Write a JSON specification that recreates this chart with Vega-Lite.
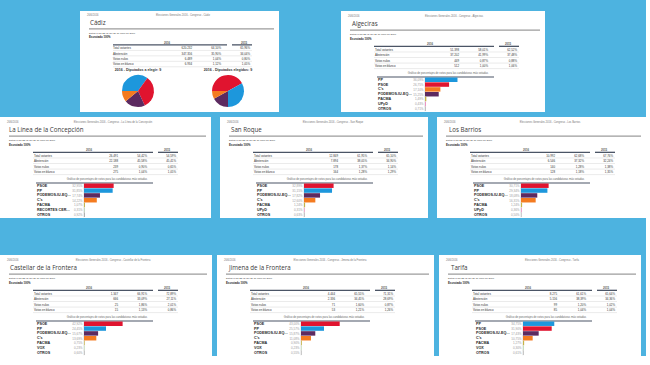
{
 "$schema": "https://vega.github.io/schema/vega-lite/v6.json",
 "background": "#4db3e0",
 "padding": {"left": 0, "top": 11, "right": 0, "bottom": 0},
 "config": {
  "view": {"stroke": null, "fill": "white"},
  "axis": {"disable": true},
  "legend": {"disable": true},
  "text": {"font": "Liberation Sans"},
  "locale": {"number": {"decimal": ",", "thousands": ".", "grouping": [3], "currency": ["", " €"]}}
 },
 "spacing": 37,
 "vconcat": [
  {
   "spacing": 5,
   "vconcat": [
    {
     "spacing": 62,
     "hconcat": [
      {"width": 18, "height": 101, "view": {"fillOpacity": 0}, "data": {"values": [{}]}, "mark": {"type": "text", "text": ""}, "encoding": {}},
      {
       "width": 199, "height": 101,
       "resolve": {"scale": {"x": "independent", "y": "independent"}},
       "layer": [
        {
         "data": {"values": [{"municipio": "Cádiz", "fecha": "26/6/2016", "cabecera": "Elecciones Generales 2016 - Congreso - Cádiz", "datos": "Datos a las 22:45 del 26 de junio de 2016", "escrutado": "Escrutado 100%"}]},
         "layer": [
          {"mark": {"type": "text", "align": "left", "baseline": "middle", "fontSize": 2.6, "color": "#777", "dx": -76},
           "encoding": {"x": {"datum": "concepto", "type": "nominal", "scale": {"type": "point", "domain": ["concepto", "votos", "pct2016", "pct2015"], "range": [83, 170], "padding": 0}}, "y": {"datum": "cabecera", "type": "nominal", "scale": {"type": "point", "domain": ["cabecera", "titulo", "regla", "datos", "escrutado", "anios", "Total votantes", "Abstención", "Votos nulos", "Votos en blanco", "grafico", "regla_grafico"], "range": [4, 64], "padding": 0}}, "text": {"field": "fecha"}}},
          {"mark": {"type": "text", "align": "center", "baseline": "middle", "fontSize": 2.6, "color": "#777", "dx": -9},
           "encoding": {"x": {"datum": "votos", "type": "nominal"}, "y": {"datum": "cabecera", "type": "nominal"}, "text": {"field": "cabecera"}}},
          {"mark": {"type": "text", "align": "left", "baseline": "middle", "fontSize": 6.2, "font": "Open Sans", "color": "#3a3a3a", "dx": -73, "dy": 2.5},
           "encoding": {"x": {"datum": "concepto", "type": "nominal"}, "y": {"datum": "titulo", "type": "nominal"}, "text": {"field": "municipio"}}},
          {"mark": {"type": "rule", "color": "#9c9c9c", "strokeWidth": 1.4, "xOffset": -74, "x2Offset": 24, "yOffset": 3},
           "encoding": {"x": {"datum": "concepto", "type": "nominal"}, "x2": {"datum": "pct2015"}, "y": {"datum": "regla", "type": "nominal"}}},
          {"mark": {"type": "text", "align": "left", "baseline": "middle", "fontSize": 2.5, "color": "#444", "dx": -74, "dy": 1.5},
           "encoding": {"x": {"datum": "concepto", "type": "nominal"}, "y": {"datum": "datos", "type": "nominal"}, "text": {"field": "datos"}}},
          {"mark": {"type": "text", "align": "left", "baseline": "middle", "fontSize": 2.8, "fontWeight": "bold", "color": "#222", "dx": -74},
           "encoding": {"x": {"datum": "concepto", "type": "nominal"}, "y": {"datum": "escrutado", "type": "nominal"}, "text": {"field": "escrutado"}}},
          {"mark": {"type": "text", "text": "2016", "align": "center", "baseline": "middle", "fontSize": 2.8, "fontWeight": "bold", "color": "#555", "dx": 4},
           "encoding": {"x": {"datum": "concepto", "type": "nominal"}, "y": {"datum": "anios", "type": "nominal"}}},
          {"mark": {"type": "text", "text": "2015", "align": "center", "baseline": "middle", "fontSize": 2.8, "fontWeight": "bold", "color": "#555", "dx": -6},
           "encoding": {"x": {"datum": "pct2015", "type": "nominal"}, "y": {"datum": "anios", "type": "nominal"}}},
          {"mark": {"type": "rule", "color": "#4b5566", "strokeWidth": 1.3, "xOffset": -50, "x2Offset": 6, "yOffset": 2.6},
           "encoding": {"x": {"datum": "concepto", "type": "nominal"}, "x2": {"datum": "pct2016"}, "y": {"datum": "anios", "type": "nominal"}}},
          {"mark": {"type": "rule", "color": "#4b5566", "strokeWidth": 1.3, "xOffset": -18, "x2Offset": 2, "yOffset": 2.6},
           "encoding": {"x": {"datum": "pct2015", "type": "nominal"}, "x2": {"datum": "pct2015"}, "y": {"datum": "anios", "type": "nominal"}}},
          {"data": {"values": [{"concepto": "Total votantes", "votos": "620.232", "pct2016": "64,10%", "pct2015": "65,96%"}, {"concepto": "Abstención", "votos": "347.356", "pct2016": "35,90%", "pct2015": "34,04%"}, {"concepto": "Votos nulos", "votos": "6.489", "pct2016": "1,04%", "pct2015": "0,80%"}, {"concepto": "Votos en blanco", "votos": "6.934", "pct2016": "1,12%", "pct2015": "1,05%"}]},
           "layer": [
            {"mark": {"type": "rule", "color": "#dddddd", "strokeWidth": 0.6, "xOffset": -50, "x2Offset": 2, "yOffset": 2.7},
             "encoding": {"x": {"datum": "concepto", "type": "nominal"}, "x2": {"datum": "pct2015"}, "y": {"field": "concepto", "type": "nominal"}}},
            {"mark": {"type": "text", "align": "left", "baseline": "middle", "fontSize": 2.9, "color": "#333", "dx": -50},
             "encoding": {"x": {"datum": "concepto", "type": "nominal"}, "y": {"field": "concepto", "type": "nominal"}, "text": {"field": "concepto"}}},
            {"transform": [{"fold": ["votos", "pct2016", "pct2015"], "as": ["columna", "valor"]}],
             "mark": {"type": "text", "align": "right", "baseline": "middle", "fontSize": 2.9, "color": "#333"},
             "encoding": {"x": {"field": "columna", "type": "nominal"}, "y": {"field": "concepto", "type": "nominal"}, "text": {"field": "valor"}}}
           ]}
         ]
        },
        {
         "resolve": {"scale": {"theta": "independent"}},
         "layer": [
          {"data": {"values": [{"grafico": "a elegir", "texto": "2016 - Diputados a elegir: 9"}, {"grafico": "elegidos", "texto": "2016 - Diputados elegidos: 9"}]},
           "mark": {"type": "text", "align": "center", "baseline": "middle", "fontSize": 3.6, "fontWeight": "bold", "color": "#333"},
           "encoding": {"x": {"field": "grafico", "type": "nominal", "scale": {"type": "point", "domain": ["a elegir", "elegidos"], "range": [58, 148], "padding": 0}}, "y": {"datum": "etiqueta", "type": "nominal", "scale": {"type": "point", "domain": ["etiqueta", "pastel"], "range": [59, 80], "padding": 0}}, "text": {"field": "texto"}}},
          {"data": {"values": [{"grafico": "a elegir", "partido": "PP", "valor": 35}, {"grafico": "a elegir", "partido": "PSOE", "valor": 33}, {"grafico": "a elegir", "partido": "PODEMOS-IU-EQUO", "valor": 21}, {"grafico": "a elegir", "partido": "C's", "valor": 11}]},
           "mark": {"type": "arc", "outerRadius": 16},
           "encoding": {"x": {"field": "grafico", "type": "nominal"}, "y": {"datum": "pastel", "type": "nominal"}, "theta": {"field": "valor", "type": "quantitative", "scale": {"range": [-1.5708, 4.7124]}}, "order": {"field": "valor", "type": "quantitative", "sort": "descending"}, "color": {"field": "partido", "type": "nominal", "scale": {"domain": ["PP", "PSOE", "PODEMOS-IU-EQUO", "C's", "PACMA", "UPyD", "RECORTES CERO-GV", "VOX", "OTROS"], "range": ["#1d97dc", "#e0142f", "#5c2a60", "#f47b20", "#c5b446", "#e5007d", "#4f9a4a", "#5ab630", "#a5a5a5"]}}}},
          {"data": {"values": [{"grafico": "elegidos", "partido": "PSOE", "valor": 42}, {"grafico": "elegidos", "partido": "PP", "valor": 33}, {"grafico": "elegidos", "partido": "PODEMOS-IU-EQUO", "valor": 17}, {"grafico": "elegidos", "partido": "C's", "valor": 8}]},
           "mark": {"type": "arc", "outerRadius": 16},
           "encoding": {"x": {"field": "grafico", "type": "nominal"}, "y": {"datum": "pastel", "type": "nominal"}, "theta": {"field": "valor", "type": "quantitative", "scale": {"range": [-1.5708, 4.7124]}}, "order": {"field": "valor", "type": "quantitative", "sort": "descending"}, "color": {"field": "partido", "type": "nominal"}}}
         ]
        }
       ]
      },
      {
       "width": 204, "height": 101,
       "resolve": {"scale": {"x": "independent", "y": "independent"}},
       "layer": [
        {
         "data": {"values": [{"municipio": "Algeciras", "fecha": "26/6/2016", "cabecera": "Elecciones Generales 2016 - Congreso - Algeciras", "datos": "Datos a las 22:45 del 26 de junio de 2016", "escrutado": "Escrutado 100%"}]},
         "layer": [
          {"mark": {"type": "text", "align": "left", "baseline": "middle", "fontSize": 2.6, "color": "#777", "dx": -82},
           "encoding": {"x": {"datum": "concepto", "type": "nominal", "scale": {"type": "point", "domain": ["concepto", "votos", "pct2016", "pct2015"], "range": [89, 176], "padding": 0}}, "y": {"datum": "cabecera", "type": "nominal", "scale": {"type": "point", "domain": ["cabecera", "titulo", "regla", "datos", "escrutado", "anios", "Total votantes", "Abstención", "Votos nulos", "Votos en blanco", "grafico", "regla_grafico"], "range": [5, 66], "padding": 0}}, "text": {"field": "fecha"}}},
          {"mark": {"type": "text", "align": "center", "baseline": "middle", "fontSize": 2.6, "color": "#777", "dx": -5},
           "encoding": {"x": {"datum": "votos", "type": "nominal"}, "y": {"datum": "cabecera", "type": "nominal"}, "text": {"field": "cabecera"}}},
          {"mark": {"type": "text", "align": "left", "baseline": "middle", "fontSize": 6.2, "font": "Open Sans", "color": "#3a3a3a", "dx": -78, "dy": 2.5},
           "encoding": {"x": {"datum": "concepto", "type": "nominal"}, "y": {"datum": "titulo", "type": "nominal"}, "text": {"field": "municipio"}}},
          {"mark": {"type": "rule", "color": "#9c9c9c", "strokeWidth": 1.4, "xOffset": -80, "x2Offset": 23, "yOffset": 3},
           "encoding": {"x": {"datum": "concepto", "type": "nominal"}, "x2": {"datum": "pct2015"}, "y": {"datum": "regla", "type": "nominal"}}},
          {"mark": {"type": "text", "align": "left", "baseline": "middle", "fontSize": 2.5, "color": "#444", "dx": -80, "dy": 1.5},
           "encoding": {"x": {"datum": "concepto", "type": "nominal"}, "y": {"datum": "datos", "type": "nominal"}, "text": {"field": "datos"}}},
          {"mark": {"type": "text", "align": "left", "baseline": "middle", "fontSize": 2.8, "fontWeight": "bold", "color": "#222", "dx": -80},
           "encoding": {"x": {"datum": "concepto", "type": "nominal"}, "y": {"datum": "escrutado", "type": "nominal"}, "text": {"field": "escrutado"}}},
          {"mark": {"type": "text", "text": "2016", "align": "center", "baseline": "middle", "fontSize": 2.8, "fontWeight": "bold", "color": "#555"},
           "encoding": {"x": {"datum": "concepto", "type": "nominal"}, "y": {"datum": "anios", "type": "nominal"}}},
          {"mark": {"type": "text", "text": "2015", "align": "center", "baseline": "middle", "fontSize": 2.8, "fontWeight": "bold", "color": "#555", "dx": -9},
           "encoding": {"x": {"datum": "pct2015", "type": "nominal"}, "y": {"datum": "anios", "type": "nominal"}}},
          {"mark": {"type": "rule", "color": "#4b5566", "strokeWidth": 1.3, "xOffset": -56, "x2Offset": 6, "yOffset": 2.6},
           "encoding": {"x": {"datum": "concepto", "type": "nominal"}, "x2": {"datum": "pct2016"}, "y": {"datum": "anios", "type": "nominal"}}},
          {"mark": {"type": "rule", "color": "#4b5566", "strokeWidth": 1.3, "xOffset": -18, "x2Offset": 2, "yOffset": 2.6},
           "encoding": {"x": {"datum": "pct2015", "type": "nominal"}, "x2": {"datum": "pct2015"}, "y": {"datum": "anios", "type": "nominal"}}},
          {"mark": {"type": "text", "text": "Gráfico de porcentajes de votos para las candidaturas más votadas", "align": "center", "baseline": "middle", "fontSize": 2.7, "color": "#666", "dx": -11, "dy": 2},
           "encoding": {"x": {"datum": "votos", "type": "nominal"}, "y": {"datum": "grafico", "type": "nominal"}}},
          {"mark": {"type": "rule", "color": "#4b5566", "strokeWidth": 1.2, "xOffset": -53, "x2Offset": 6},
           "encoding": {"x": {"datum": "concepto", "type": "nominal"}, "x2": {"datum": "pct2016"}, "y": {"datum": "regla_grafico", "type": "nominal"}}},
          {"data": {"values": [{"concepto": "Total votantes", "votos": "51.398", "pct2016": "58,01%", "pct2015": "62,52%"}, {"concepto": "Abstención", "votos": "37.202", "pct2016": "41,99%", "pct2015": "37,48%"}, {"concepto": "Votos nulos", "votos": "449", "pct2016": "0,87%", "pct2015": "0,88%"}, {"concepto": "Votos en blanco", "votos": "512", "pct2016": "1,00%", "pct2015": "1,06%"}]},
           "layer": [
            {"mark": {"type": "rule", "color": "#dddddd", "strokeWidth": 0.6, "xOffset": -56, "x2Offset": 2, "yOffset": 2.7},
             "encoding": {"x": {"datum": "concepto", "type": "nominal"}, "x2": {"datum": "pct2015"}, "y": {"field": "concepto", "type": "nominal"}}},
            {"mark": {"type": "text", "align": "left", "baseline": "middle", "fontSize": 2.9, "color": "#333", "dx": -55},
             "encoding": {"x": {"datum": "concepto", "type": "nominal"}, "y": {"field": "concepto", "type": "nominal"}, "text": {"field": "concepto"}}},
            {"transform": [{"fold": ["votos", "pct2016", "pct2015"], "as": ["columna", "valor"]}],
             "mark": {"type": "text", "align": "right", "baseline": "middle", "fontSize": 2.9, "color": "#333"},
             "encoding": {"x": {"field": "columna", "type": "nominal"}, "y": {"field": "concepto", "type": "nominal"}, "text": {"field": "valor"}}}
           ]}
         ]
        },
        {
         "data": {"values": [{"partido": "PP", "pct": 0.3609}, {"partido": "PSOE", "pct": 0.2675}, {"partido": "C's", "pct": 0.1710}, {"partido": "PODEMOS-IU-EQUO", "pct": 0.1525}, {"partido": "PACMA", "pct": 0.0149}, {"partido": "UPyD", "pct": 0.0043}, {"partido": "OTROS", "pct": 0.0071}]},
         "layer": [
          {"mark": {"type": "tick", "color": "#b5b5b5", "thickness": 0.6, "size": 5},
           "encoding": {"x": {"datum": 0, "type": "quantitative", "scale": {"domain": [0, 1], "range": [84, 174], "nice": false, "zero": true}}, "y": {"field": "partido", "type": "nominal", "sort": null, "scale": {"type": "band", "range": [66.5, 100], "paddingInner": 0.08, "paddingOuter": 0}}}},
          {"mark": {"type": "bar"},
           "encoding": {"x": {"field": "pct", "type": "quantitative"}, "y": {"field": "partido", "type": "nominal", "sort": null}, "color": {"field": "partido", "type": "nominal"}}},
          {"mark": {"type": "text", "align": "left", "baseline": "middle", "fontSize": 3.7, "fontWeight": "bold", "color": "#1e1e1e", "dx": -47, "limit": 35},
           "encoding": {"x": {"datum": 0, "type": "quantitative"}, "y": {"field": "partido", "type": "nominal", "sort": null}, "text": {"field": "partido"}}},
          {"mark": {"type": "text", "align": "right", "baseline": "middle", "fontSize": 3, "color": "#9a9a9a", "dx": -1.5},
           "encoding": {"x": {"datum": 0, "type": "quantitative"}, "y": {"field": "partido", "type": "nominal", "sort": null}, "text": {"field": "pct", "type": "quantitative", "format": ".2%"}}}
         ]
        }
       ]
      }
     ]
    },
    {
     "spacing": 9,
     "hconcat": [
      {
       "width": 211, "height": 101,
       "resolve": {"scale": {"x": "independent", "y": "independent"}},
       "layer": [
        {
         "data": {"values": [{"municipio": "La Línea de la Concepción", "fecha": "26/6/2016", "cabecera": "Elecciones Generales 2016 - Congreso - La Línea de la Concepción", "datos": "Datos a las 22:45 del 26 de junio de 2016", "escrutado": "Escrutado 100%"}]},
         "layer": [
          {"mark": {"type": "text", "align": "left", "baseline": "middle", "fontSize": 2.6, "color": "#777", "dx": -82},
           "encoding": {"x": {"datum": "concepto", "type": "nominal", "scale": {"type": "point", "domain": ["concepto", "votos", "pct2016", "pct2015"], "range": [89, 176], "padding": 0}}, "y": {"datum": "cabecera", "type": "nominal", "scale": {"type": "point", "domain": ["cabecera", "titulo", "regla", "datos", "escrutado", "anios", "Total votantes", "Abstención", "Votos nulos", "Votos en blanco", "grafico", "regla_grafico"], "range": [5, 66], "padding": 0}}, "text": {"field": "fecha"}}},
          {"mark": {"type": "text", "align": "center", "baseline": "middle", "fontSize": 2.6, "color": "#777", "dx": -5},
           "encoding": {"x": {"datum": "votos", "type": "nominal"}, "y": {"datum": "cabecera", "type": "nominal"}, "text": {"field": "cabecera"}}},
          {"mark": {"type": "text", "align": "left", "baseline": "middle", "fontSize": 6.2, "font": "Open Sans", "color": "#3a3a3a", "dx": -80, "dy": 2.5},
           "encoding": {"x": {"datum": "concepto", "type": "nominal"}, "y": {"datum": "titulo", "type": "nominal"}, "text": {"field": "municipio"}}},
          {"mark": {"type": "rule", "color": "#9c9c9c", "strokeWidth": 1.4, "xOffset": -80, "x2Offset": 30, "yOffset": 3},
           "encoding": {"x": {"datum": "concepto", "type": "nominal"}, "x2": {"datum": "pct2015"}, "y": {"datum": "regla", "type": "nominal"}}},
          {"mark": {"type": "text", "align": "left", "baseline": "middle", "fontSize": 2.5, "color": "#444", "dx": -80, "dy": 1.5},
           "encoding": {"x": {"datum": "concepto", "type": "nominal"}, "y": {"datum": "datos", "type": "nominal"}, "text": {"field": "datos"}}},
          {"mark": {"type": "text", "align": "left", "baseline": "middle", "fontSize": 2.8, "fontWeight": "bold", "color": "#222", "dx": -80},
           "encoding": {"x": {"datum": "concepto", "type": "nominal"}, "y": {"datum": "escrutado", "type": "nominal"}, "text": {"field": "escrutado"}}},
          {"mark": {"type": "text", "text": "2016", "align": "center", "baseline": "middle", "fontSize": 2.8, "fontWeight": "bold", "color": "#555"},
           "encoding": {"x": {"datum": "concepto", "type": "nominal"}, "y": {"datum": "anios", "type": "nominal"}}},
          {"mark": {"type": "text", "text": "2015", "align": "center", "baseline": "middle", "fontSize": 2.8, "fontWeight": "bold", "color": "#555", "dx": -9},
           "encoding": {"x": {"datum": "pct2015", "type": "nominal"}, "y": {"datum": "anios", "type": "nominal"}}},
          {"mark": {"type": "rule", "color": "#4b5566", "strokeWidth": 1.3, "xOffset": -56, "x2Offset": 6, "yOffset": 2.6},
           "encoding": {"x": {"datum": "concepto", "type": "nominal"}, "x2": {"datum": "pct2016"}, "y": {"datum": "anios", "type": "nominal"}}},
          {"mark": {"type": "rule", "color": "#4b5566", "strokeWidth": 1.3, "xOffset": -18, "x2Offset": 2, "yOffset": 2.6},
           "encoding": {"x": {"datum": "pct2015", "type": "nominal"}, "x2": {"datum": "pct2015"}, "y": {"datum": "anios", "type": "nominal"}}},
          {"mark": {"type": "text", "text": "Gráfico de porcentajes de votos para las candidaturas más votadas", "align": "center", "baseline": "middle", "fontSize": 2.7, "color": "#666", "dx": -11, "dy": 2},
           "encoding": {"x": {"datum": "votos", "type": "nominal"}, "y": {"datum": "grafico", "type": "nominal"}}},
          {"mark": {"type": "rule", "color": "#4b5566", "strokeWidth": 1.2, "xOffset": -53, "x2Offset": 6},
           "encoding": {"x": {"datum": "concepto", "type": "nominal"}, "x2": {"datum": "pct2016"}, "y": {"datum": "regla_grafico", "type": "nominal"}}},
          {"data": {"values": [{"concepto": "Total votantes", "votos": "26.491", "pct2016": "54,42%", "pct2015": "54,59%"}, {"concepto": "Abstención", "votos": "22.188", "pct2016": "45,58%", "pct2015": "45,41%"}, {"concepto": "Votos nulos", "votos": "239", "pct2016": "0,90%", "pct2015": "0,65%"}, {"concepto": "Votos en blanco", "votos": "275", "pct2016": "1,04%", "pct2015": "1,05%"}]},
           "layer": [
            {"mark": {"type": "rule", "color": "#dddddd", "strokeWidth": 0.6, "xOffset": -56, "x2Offset": 2, "yOffset": 2.7},
             "encoding": {"x": {"datum": "concepto", "type": "nominal"}, "x2": {"datum": "pct2015"}, "y": {"field": "concepto", "type": "nominal"}}},
            {"mark": {"type": "text", "align": "left", "baseline": "middle", "fontSize": 2.9, "color": "#333", "dx": -55},
             "encoding": {"x": {"datum": "concepto", "type": "nominal"}, "y": {"field": "concepto", "type": "nominal"}, "text": {"field": "concepto"}}},
            {"transform": [{"fold": ["votos", "pct2016", "pct2015"], "as": ["columna", "valor"]}],
             "mark": {"type": "text", "align": "right", "baseline": "middle", "fontSize": 2.9, "color": "#333"},
             "encoding": {"x": {"field": "columna", "type": "nominal"}, "y": {"field": "concepto", "type": "nominal"}, "text": {"field": "valor"}}}
           ]}
         ]
        },
        {
         "data": {"values": [{"partido": "PSOE", "pct": 0.3295}, {"partido": "PP", "pct": 0.3185}, {"partido": "PODEMOS-IU-EQUO", "pct": 0.1774}, {"partido": "C's", "pct": 0.1422}, {"partido": "PACMA", "pct": 0.0107}, {"partido": "RECORTES CERO-GV", "pct": 0.0031}, {"partido": "OTROS", "pct": 0.0092}]},
         "layer": [
          {"mark": {"type": "tick", "color": "#b5b5b5", "thickness": 0.6, "size": 5},
           "encoding": {"x": {"datum": 0, "type": "quantitative", "scale": {"domain": [0, 1], "range": [84, 174], "nice": false, "zero": true}}, "y": {"field": "partido", "type": "nominal", "sort": null, "scale": {"type": "band", "range": [66.5, 100], "paddingInner": 0.08, "paddingOuter": 0}}}},
          {"mark": {"type": "bar"},
           "encoding": {"x": {"field": "pct", "type": "quantitative"}, "y": {"field": "partido", "type": "nominal", "sort": null}, "color": {"field": "partido", "type": "nominal"}}},
          {"mark": {"type": "text", "align": "left", "baseline": "middle", "fontSize": 3.7, "fontWeight": "bold", "color": "#1e1e1e", "dx": -47, "limit": 35},
           "encoding": {"x": {"datum": 0, "type": "quantitative"}, "y": {"field": "partido", "type": "nominal", "sort": null}, "text": {"field": "partido"}}},
          {"mark": {"type": "text", "align": "right", "baseline": "middle", "fontSize": 3, "color": "#9a9a9a", "dx": -1.5},
           "encoding": {"x": {"datum": 0, "type": "quantitative"}, "y": {"field": "partido", "type": "nominal", "sort": null}, "text": {"field": "pct", "type": "quantitative", "format": ".2%"}}}
         ]
        }
       ]
      },
      {
       "width": 208, "height": 101,
       "resolve": {"scale": {"x": "independent", "y": "independent"}},
       "layer": [
        {
         "data": {"values": [{"municipio": "San Roque", "fecha": "26/6/2016", "cabecera": "Elecciones Generales 2016 - Congreso - San Roque", "datos": "Datos a las 22:45 del 26 de junio de 2016", "escrutado": "Escrutado 100%"}]},
         "layer": [
          {"mark": {"type": "text", "align": "left", "baseline": "middle", "fontSize": 2.6, "color": "#777", "dx": -82},
           "encoding": {"x": {"datum": "concepto", "type": "nominal", "scale": {"type": "point", "domain": ["concepto", "votos", "pct2016", "pct2015"], "range": [89, 176], "padding": 0}}, "y": {"datum": "cabecera", "type": "nominal", "scale": {"type": "point", "domain": ["cabecera", "titulo", "regla", "datos", "escrutado", "anios", "Total votantes", "Abstención", "Votos nulos", "Votos en blanco", "grafico", "regla_grafico"], "range": [5, 66], "padding": 0}}, "text": {"field": "fecha"}}},
          {"mark": {"type": "text", "align": "center", "baseline": "middle", "fontSize": 2.6, "color": "#777", "dx": -5},
           "encoding": {"x": {"datum": "votos", "type": "nominal"}, "y": {"datum": "cabecera", "type": "nominal"}, "text": {"field": "cabecera"}}},
          {"mark": {"type": "text", "align": "left", "baseline": "middle", "fontSize": 6.2, "font": "Open Sans", "color": "#3a3a3a", "dx": -78, "dy": 2.5},
           "encoding": {"x": {"datum": "concepto", "type": "nominal"}, "y": {"datum": "titulo", "type": "nominal"}, "text": {"field": "municipio"}}},
          {"mark": {"type": "rule", "color": "#9c9c9c", "strokeWidth": 1.4, "xOffset": -80, "x2Offset": 27, "yOffset": 3},
           "encoding": {"x": {"datum": "concepto", "type": "nominal"}, "x2": {"datum": "pct2015"}, "y": {"datum": "regla", "type": "nominal"}}},
          {"mark": {"type": "text", "align": "left", "baseline": "middle", "fontSize": 2.5, "color": "#444", "dx": -80, "dy": 1.5},
           "encoding": {"x": {"datum": "concepto", "type": "nominal"}, "y": {"datum": "datos", "type": "nominal"}, "text": {"field": "datos"}}},
          {"mark": {"type": "text", "align": "left", "baseline": "middle", "fontSize": 2.8, "fontWeight": "bold", "color": "#222", "dx": -80},
           "encoding": {"x": {"datum": "concepto", "type": "nominal"}, "y": {"datum": "escrutado", "type": "nominal"}, "text": {"field": "escrutado"}}},
          {"mark": {"type": "text", "text": "2016", "align": "center", "baseline": "middle", "fontSize": 2.8, "fontWeight": "bold", "color": "#555"},
           "encoding": {"x": {"datum": "concepto", "type": "nominal"}, "y": {"datum": "anios", "type": "nominal"}}},
          {"mark": {"type": "text", "text": "2015", "align": "center", "baseline": "middle", "fontSize": 2.8, "fontWeight": "bold", "color": "#555", "dx": -9},
           "encoding": {"x": {"datum": "pct2015", "type": "nominal"}, "y": {"datum": "anios", "type": "nominal"}}},
          {"mark": {"type": "rule", "color": "#4b5566", "strokeWidth": 1.3, "xOffset": -56, "x2Offset": 6, "yOffset": 2.6},
           "encoding": {"x": {"datum": "concepto", "type": "nominal"}, "x2": {"datum": "pct2016"}, "y": {"datum": "anios", "type": "nominal"}}},
          {"mark": {"type": "rule", "color": "#4b5566", "strokeWidth": 1.3, "xOffset": -18, "x2Offset": 2, "yOffset": 2.6},
           "encoding": {"x": {"datum": "pct2015", "type": "nominal"}, "x2": {"datum": "pct2015"}, "y": {"datum": "anios", "type": "nominal"}}},
          {"mark": {"type": "text", "text": "Gráfico de porcentajes de votos para las candidaturas más votadas", "align": "center", "baseline": "middle", "fontSize": 2.7, "color": "#666", "dx": -11, "dy": 2},
           "encoding": {"x": {"datum": "votos", "type": "nominal"}, "y": {"datum": "grafico", "type": "nominal"}}},
          {"mark": {"type": "rule", "color": "#4b5566", "strokeWidth": 1.2, "xOffset": -53, "x2Offset": 6},
           "encoding": {"x": {"datum": "concepto", "type": "nominal"}, "x2": {"datum": "pct2016"}, "y": {"datum": "regla_grafico", "type": "nominal"}}},
          {"data": {"values": [{"concepto": "Total votantes", "votos": "12.849", "pct2016": "61,95%", "pct2015": "65,10%"}, {"concepto": "Abstención", "votos": "7.894", "pct2016": "38,05%", "pct2015": "34,90%"}, {"concepto": "Votos nulos", "votos": "178", "pct2016": "1,37%", "pct2015": "1,14%"}, {"concepto": "Votos en blanco", "votos": "164", "pct2016": "1,28%", "pct2015": "1,29%"}]},
           "layer": [
            {"mark": {"type": "rule", "color": "#dddddd", "strokeWidth": 0.6, "xOffset": -56, "x2Offset": 2, "yOffset": 2.7},
             "encoding": {"x": {"datum": "concepto", "type": "nominal"}, "x2": {"datum": "pct2015"}, "y": {"field": "concepto", "type": "nominal"}}},
            {"mark": {"type": "text", "align": "left", "baseline": "middle", "fontSize": 2.9, "color": "#333", "dx": -55},
             "encoding": {"x": {"datum": "concepto", "type": "nominal"}, "y": {"field": "concepto", "type": "nominal"}, "text": {"field": "concepto"}}},
            {"transform": [{"fold": ["votos", "pct2016", "pct2015"], "as": ["columna", "valor"]}],
             "mark": {"type": "text", "align": "right", "baseline": "middle", "fontSize": 2.9, "color": "#333"},
             "encoding": {"x": {"field": "columna", "type": "nominal"}, "y": {"field": "concepto", "type": "nominal"}, "text": {"field": "valor"}}}
           ]}
         ]
        },
        {
         "data": {"values": [{"partido": "PSOE", "pct": 0.3289}, {"partido": "PP", "pct": 0.3115}, {"partido": "PODEMOS-IU-EQUO", "pct": 0.1782}, {"partido": "C's", "pct": 0.1260}, {"partido": "PACMA", "pct": 0.0124}, {"partido": "UPyD", "pct": 0.0031}, {"partido": "OTROS", "pct": 0.0063}]},
         "layer": [
          {"mark": {"type": "tick", "color": "#b5b5b5", "thickness": 0.6, "size": 5},
           "encoding": {"x": {"datum": 0, "type": "quantitative", "scale": {"domain": [0, 1], "range": [84, 174], "nice": false, "zero": true}}, "y": {"field": "partido", "type": "nominal", "sort": null, "scale": {"type": "band", "range": [66.5, 100], "paddingInner": 0.08, "paddingOuter": 0}}}},
          {"mark": {"type": "bar"},
           "encoding": {"x": {"field": "pct", "type": "quantitative"}, "y": {"field": "partido", "type": "nominal", "sort": null}, "color": {"field": "partido", "type": "nominal"}}},
          {"mark": {"type": "text", "align": "left", "baseline": "middle", "fontSize": 3.7, "fontWeight": "bold", "color": "#1e1e1e", "dx": -47, "limit": 35},
           "encoding": {"x": {"datum": 0, "type": "quantitative"}, "y": {"field": "partido", "type": "nominal", "sort": null}, "text": {"field": "partido"}}},
          {"mark": {"type": "text", "align": "right", "baseline": "middle", "fontSize": 3, "color": "#9a9a9a", "dx": -1.5},
           "encoding": {"x": {"datum": 0, "type": "quantitative"}, "y": {"field": "partido", "type": "nominal", "sort": null}, "text": {"field": "pct", "type": "quantitative", "format": ".2%"}}}
         ]
        }
       ]
      },
      {
       "width": 209, "height": 101,
       "resolve": {"scale": {"x": "independent", "y": "independent"}},
       "layer": [
        {
         "data": {"values": [{"municipio": "Los Barrios", "fecha": "26/6/2016", "cabecera": "Elecciones Generales 2016 - Congreso - Los Barrios", "datos": "Datos a las 22:45 del 26 de junio de 2016", "escrutado": "Escrutado 100%"}]},
         "layer": [
          {"mark": {"type": "text", "align": "left", "baseline": "middle", "fontSize": 2.6, "color": "#777", "dx": -82},
           "encoding": {"x": {"datum": "concepto", "type": "nominal", "scale": {"type": "point", "domain": ["concepto", "votos", "pct2016", "pct2015"], "range": [89, 176], "padding": 0}}, "y": {"datum": "cabecera", "type": "nominal", "scale": {"type": "point", "domain": ["cabecera", "titulo", "regla", "datos", "escrutado", "anios", "Total votantes", "Abstención", "Votos nulos", "Votos en blanco", "grafico", "regla_grafico"], "range": [5, 66], "padding": 0}}, "text": {"field": "fecha"}}},
          {"mark": {"type": "text", "align": "center", "baseline": "middle", "fontSize": 2.6, "color": "#777", "dx": -5},
           "encoding": {"x": {"datum": "votos", "type": "nominal"}, "y": {"datum": "cabecera", "type": "nominal"}, "text": {"field": "cabecera"}}},
          {"mark": {"type": "text", "align": "left", "baseline": "middle", "fontSize": 6.2, "font": "Open Sans", "color": "#3a3a3a", "dx": -77, "dy": 2.5},
           "encoding": {"x": {"datum": "concepto", "type": "nominal"}, "y": {"datum": "titulo", "type": "nominal"}, "text": {"field": "municipio"}}},
          {"mark": {"type": "rule", "color": "#9c9c9c", "strokeWidth": 1.4, "xOffset": -80, "x2Offset": 28, "yOffset": 3},
           "encoding": {"x": {"datum": "concepto", "type": "nominal"}, "x2": {"datum": "pct2015"}, "y": {"datum": "regla", "type": "nominal"}}},
          {"mark": {"type": "text", "align": "left", "baseline": "middle", "fontSize": 2.5, "color": "#444", "dx": -80, "dy": 1.5},
           "encoding": {"x": {"datum": "concepto", "type": "nominal"}, "y": {"datum": "datos", "type": "nominal"}, "text": {"field": "datos"}}},
          {"mark": {"type": "text", "align": "left", "baseline": "middle", "fontSize": 2.8, "fontWeight": "bold", "color": "#222", "dx": -80},
           "encoding": {"x": {"datum": "concepto", "type": "nominal"}, "y": {"datum": "escrutado", "type": "nominal"}, "text": {"field": "escrutado"}}},
          {"mark": {"type": "text", "text": "2016", "align": "center", "baseline": "middle", "fontSize": 2.8, "fontWeight": "bold", "color": "#555"},
           "encoding": {"x": {"datum": "concepto", "type": "nominal"}, "y": {"datum": "anios", "type": "nominal"}}},
          {"mark": {"type": "text", "text": "2015", "align": "center", "baseline": "middle", "fontSize": 2.8, "fontWeight": "bold", "color": "#555", "dx": -9},
           "encoding": {"x": {"datum": "pct2015", "type": "nominal"}, "y": {"datum": "anios", "type": "nominal"}}},
          {"mark": {"type": "rule", "color": "#4b5566", "strokeWidth": 1.3, "xOffset": -56, "x2Offset": 6, "yOffset": 2.6},
           "encoding": {"x": {"datum": "concepto", "type": "nominal"}, "x2": {"datum": "pct2016"}, "y": {"datum": "anios", "type": "nominal"}}},
          {"mark": {"type": "rule", "color": "#4b5566", "strokeWidth": 1.3, "xOffset": -18, "x2Offset": 2, "yOffset": 2.6},
           "encoding": {"x": {"datum": "pct2015", "type": "nominal"}, "x2": {"datum": "pct2015"}, "y": {"datum": "anios", "type": "nominal"}}},
          {"mark": {"type": "text", "text": "Gráfico de porcentajes de votos para las candidaturas más votadas", "align": "center", "baseline": "middle", "fontSize": 2.7, "color": "#666", "dx": -11, "dy": 2},
           "encoding": {"x": {"datum": "votos", "type": "nominal"}, "y": {"datum": "grafico", "type": "nominal"}}},
          {"mark": {"type": "rule", "color": "#4b5566", "strokeWidth": 1.2, "xOffset": -53, "x2Offset": 6},
           "encoding": {"x": {"datum": "concepto", "type": "nominal"}, "x2": {"datum": "pct2016"}, "y": {"datum": "regla_grafico", "type": "nominal"}}},
          {"data": {"values": [{"concepto": "Total votantes", "votos": "10.992", "pct2016": "62,68%", "pct2015": "67,76%"}, {"concepto": "Abstención", "votos": "6.546", "pct2016": "37,32%", "pct2015": "32,24%"}, {"concepto": "Votos nulos", "votos": "140", "pct2016": "1,28%", "pct2015": "1,38%"}, {"concepto": "Votos en blanco", "votos": "128", "pct2016": "1,18%", "pct2015": "1,35%"}]},
           "layer": [
            {"mark": {"type": "rule", "color": "#dddddd", "strokeWidth": 0.6, "xOffset": -56, "x2Offset": 2, "yOffset": 2.7},
             "encoding": {"x": {"datum": "concepto", "type": "nominal"}, "x2": {"datum": "pct2015"}, "y": {"field": "concepto", "type": "nominal"}}},
            {"mark": {"type": "text", "align": "left", "baseline": "middle", "fontSize": 2.9, "color": "#333", "dx": -55},
             "encoding": {"x": {"datum": "concepto", "type": "nominal"}, "y": {"field": "concepto", "type": "nominal"}, "text": {"field": "concepto"}}},
            {"transform": [{"fold": ["votos", "pct2016", "pct2015"], "as": ["columna", "valor"]}],
             "mark": {"type": "text", "align": "right", "baseline": "middle", "fontSize": 2.9, "color": "#333"},
             "encoding": {"x": {"field": "columna", "type": "nominal"}, "y": {"field": "concepto", "type": "nominal"}, "text": {"field": "valor"}}}
           ]}
         ]
        },
        {
         "data": {"values": [{"partido": "PSOE", "pct": 0.3071}, {"partido": "PP", "pct": 0.2934}, {"partido": "PODEMOS-IU-EQUO", "pct": 0.1808}, {"partido": "C's", "pct": 0.1631}, {"partido": "PACMA", "pct": 0.0124}, {"partido": "UPyD", "pct": 0.0036}, {"partido": "OTROS", "pct": 0.0050}]},
         "layer": [
          {"mark": {"type": "tick", "color": "#b5b5b5", "thickness": 0.6, "size": 5},
           "encoding": {"x": {"datum": 0, "type": "quantitative", "scale": {"domain": [0, 1], "range": [84, 174], "nice": false, "zero": true}}, "y": {"field": "partido", "type": "nominal", "sort": null, "scale": {"type": "band", "range": [66.5, 100], "paddingInner": 0.08, "paddingOuter": 0}}}},
          {"mark": {"type": "bar"},
           "encoding": {"x": {"field": "pct", "type": "quantitative"}, "y": {"field": "partido", "type": "nominal", "sort": null}, "color": {"field": "partido", "type": "nominal"}}},
          {"mark": {"type": "text", "align": "left", "baseline": "middle", "fontSize": 3.7, "fontWeight": "bold", "color": "#1e1e1e", "dx": -47, "limit": 35},
           "encoding": {"x": {"datum": 0, "type": "quantitative"}, "y": {"field": "partido", "type": "nominal", "sort": null}, "text": {"field": "partido"}}},
          {"mark": {"type": "text", "align": "right", "baseline": "middle", "fontSize": 3, "color": "#9a9a9a", "dx": -1.5},
           "encoding": {"x": {"datum": 0, "type": "quantitative"}, "y": {"field": "partido", "type": "nominal", "sort": null}, "text": {"field": "pct", "type": "quantitative", "format": ".2%"}}}
         ]
        }
       ]
      }
     ]
    }
   ]
  },
  {
   "spacing": 5,
   "hconcat": [
    {
     "width": 212, "height": 101,
     "resolve": {"scale": {"x": "independent", "y": "independent"}},
     "layer": [
      {
       "data": {"values": [{"municipio": "Castellar de la Frontera", "fecha": "26/6/2016", "cabecera": "Elecciones Generales 2016 - Congreso - Castellar de la Frontera", "datos": "Datos a las 22:45 del 26 de junio de 2016", "escrutado": "Escrutado 100%"}]},
       "layer": [
        {"mark": {"type": "text", "align": "left", "baseline": "middle", "fontSize": 2.6, "color": "#777", "dx": -82},
         "encoding": {"x": {"datum": "concepto", "type": "nominal", "scale": {"type": "point", "domain": ["concepto", "votos", "pct2016", "pct2015"], "range": [89, 176], "padding": 0}}, "y": {"datum": "cabecera", "type": "nominal", "scale": {"type": "point", "domain": ["cabecera", "titulo", "regla", "datos", "escrutado", "anios", "Total votantes", "Abstención", "Votos nulos", "Votos en blanco", "grafico", "regla_grafico"], "range": [5, 66], "padding": 0}}, "text": {"field": "fecha"}}},
        {"mark": {"type": "text", "align": "center", "baseline": "middle", "fontSize": 2.6, "color": "#777", "dx": -5},
         "encoding": {"x": {"datum": "votos", "type": "nominal"}, "y": {"datum": "cabecera", "type": "nominal"}, "text": {"field": "cabecera"}}},
        {"mark": {"type": "text", "align": "left", "baseline": "middle", "fontSize": 6.2, "font": "Open Sans", "color": "#3a3a3a", "dx": -79, "dy": 2.5},
         "encoding": {"x": {"datum": "concepto", "type": "nominal"}, "y": {"datum": "titulo", "type": "nominal"}, "text": {"field": "municipio"}}},
        {"mark": {"type": "rule", "color": "#9c9c9c", "strokeWidth": 1.4, "xOffset": -80, "x2Offset": 31, "yOffset": 3},
         "encoding": {"x": {"datum": "concepto", "type": "nominal"}, "x2": {"datum": "pct2015"}, "y": {"datum": "regla", "type": "nominal"}}},
        {"mark": {"type": "text", "align": "left", "baseline": "middle", "fontSize": 2.5, "color": "#444", "dx": -80, "dy": 1.5},
         "encoding": {"x": {"datum": "concepto", "type": "nominal"}, "y": {"datum": "datos", "type": "nominal"}, "text": {"field": "datos"}}},
        {"mark": {"type": "text", "align": "left", "baseline": "middle", "fontSize": 2.8, "fontWeight": "bold", "color": "#222", "dx": -80},
         "encoding": {"x": {"datum": "concepto", "type": "nominal"}, "y": {"datum": "escrutado", "type": "nominal"}, "text": {"field": "escrutado"}}},
        {"mark": {"type": "text", "text": "2016", "align": "center", "baseline": "middle", "fontSize": 2.8, "fontWeight": "bold", "color": "#555"},
         "encoding": {"x": {"datum": "concepto", "type": "nominal"}, "y": {"datum": "anios", "type": "nominal"}}},
        {"mark": {"type": "text", "text": "2015", "align": "center", "baseline": "middle", "fontSize": 2.8, "fontWeight": "bold", "color": "#555", "dx": -9},
         "encoding": {"x": {"datum": "pct2015", "type": "nominal"}, "y": {"datum": "anios", "type": "nominal"}}},
        {"mark": {"type": "rule", "color": "#4b5566", "strokeWidth": 1.3, "xOffset": -56, "x2Offset": 6, "yOffset": 2.6},
         "encoding": {"x": {"datum": "concepto", "type": "nominal"}, "x2": {"datum": "pct2016"}, "y": {"datum": "anios", "type": "nominal"}}},
        {"mark": {"type": "rule", "color": "#4b5566", "strokeWidth": 1.3, "xOffset": -18, "x2Offset": 2, "yOffset": 2.6},
         "encoding": {"x": {"datum": "pct2015", "type": "nominal"}, "x2": {"datum": "pct2015"}, "y": {"datum": "anios", "type": "nominal"}}},
        {"mark": {"type": "text", "text": "Gráfico de porcentajes de votos para las candidaturas más votadas", "align": "center", "baseline": "middle", "fontSize": 2.7, "color": "#666", "dx": -11, "dy": 2},
         "encoding": {"x": {"datum": "votos", "type": "nominal"}, "y": {"datum": "grafico", "type": "nominal"}}},
        {"mark": {"type": "rule", "color": "#4b5566", "strokeWidth": 1.2, "xOffset": -53, "x2Offset": 6},
         "encoding": {"x": {"datum": "concepto", "type": "nominal"}, "x2": {"datum": "pct2016"}, "y": {"datum": "regla_grafico", "type": "nominal"}}},
        {"data": {"values": [{"concepto": "Total votantes", "votos": "1.347", "pct2016": "66,91%", "pct2015": "72,89%"}, {"concepto": "Abstención", "votos": "666", "pct2016": "33,09%", "pct2015": "27,11%"}, {"concepto": "Votos nulos", "votos": "25", "pct2016": "1,86%", "pct2015": "2,01%"}, {"concepto": "Votos en blanco", "votos": "15", "pct2016": "1,13%", "pct2015": "0,86%"}]},
         "layer": [
          {"mark": {"type": "rule", "color": "#dddddd", "strokeWidth": 0.6, "xOffset": -56, "x2Offset": 2, "yOffset": 2.7},
           "encoding": {"x": {"datum": "concepto", "type": "nominal"}, "x2": {"datum": "pct2015"}, "y": {"field": "concepto", "type": "nominal"}}},
          {"mark": {"type": "text", "align": "left", "baseline": "middle", "fontSize": 2.9, "color": "#333", "dx": -55},
           "encoding": {"x": {"datum": "concepto", "type": "nominal"}, "y": {"field": "concepto", "type": "nominal"}, "text": {"field": "concepto"}}},
          {"transform": [{"fold": ["votos", "pct2016", "pct2015"], "as": ["columna", "valor"]}],
           "mark": {"type": "text", "align": "right", "baseline": "middle", "fontSize": 2.9, "color": "#333"},
           "encoding": {"x": {"field": "columna", "type": "nominal"}, "y": {"field": "concepto", "type": "nominal"}, "text": {"field": "valor"}}}
         ]}
       ]
      },
      {
       "data": {"values": [{"partido": "PSOE", "pct": 0.4292}, {"partido": "PP", "pct": 0.2445}, {"partido": "PODEMOS-IU-EQUO", "pct": 0.1567}, {"partido": "C's", "pct": 0.1369}, {"partido": "PACMA", "pct": 0.0075}, {"partido": "VOX", "pct": 0.0023}, {"partido": "OTROS", "pct": 0.0060}]},
       "layer": [
        {"mark": {"type": "tick", "color": "#b5b5b5", "thickness": 0.6, "size": 5},
         "encoding": {"x": {"datum": 0, "type": "quantitative", "scale": {"domain": [0, 1], "range": [84, 174], "nice": false, "zero": true}}, "y": {"field": "partido", "type": "nominal", "sort": null, "scale": {"type": "band", "range": [66.5, 100], "paddingInner": 0.08, "paddingOuter": 0}}}},
        {"mark": {"type": "bar"},
         "encoding": {"x": {"field": "pct", "type": "quantitative"}, "y": {"field": "partido", "type": "nominal", "sort": null}, "color": {"field": "partido", "type": "nominal"}}},
        {"mark": {"type": "text", "align": "left", "baseline": "middle", "fontSize": 3.7, "fontWeight": "bold", "color": "#1e1e1e", "dx": -47, "limit": 35},
         "encoding": {"x": {"datum": 0, "type": "quantitative"}, "y": {"field": "partido", "type": "nominal", "sort": null}, "text": {"field": "partido"}}},
        {"mark": {"type": "text", "align": "right", "baseline": "middle", "fontSize": 3, "color": "#9a9a9a", "dx": -1.5},
         "encoding": {"x": {"datum": 0, "type": "quantitative"}, "y": {"field": "partido", "type": "nominal", "sort": null}, "text": {"field": "pct", "type": "quantitative", "format": ".2%"}}}
       ]
      }
     ]
    },
    {
     "width": 217, "height": 101,
     "resolve": {"scale": {"x": "independent", "y": "independent"}},
     "layer": [
      {
       "data": {"values": [{"municipio": "Jimena de la Frontera", "fecha": "26/6/2016", "cabecera": "Elecciones Generales 2016 - Congreso - Jimena de la Frontera", "datos": "Datos a las 22:45 del 26 de junio de 2016", "escrutado": "Escrutado 100%"}]},
       "layer": [
        {"mark": {"type": "text", "align": "left", "baseline": "middle", "fontSize": 2.6, "color": "#777", "dx": -82},
         "encoding": {"x": {"datum": "concepto", "type": "nominal", "scale": {"type": "point", "domain": ["concepto", "votos", "pct2016", "pct2015"], "range": [89, 176], "padding": 0}}, "y": {"datum": "cabecera", "type": "nominal", "scale": {"type": "point", "domain": ["cabecera", "titulo", "regla", "datos", "escrutado", "anios", "Total votantes", "Abstención", "Votos nulos", "Votos en blanco", "grafico", "regla_grafico"], "range": [5, 66], "padding": 0}}, "text": {"field": "fecha"}}},
        {"mark": {"type": "text", "align": "center", "baseline": "middle", "fontSize": 2.6, "color": "#777", "dx": -5},
         "encoding": {"x": {"datum": "votos", "type": "nominal"}, "y": {"datum": "cabecera", "type": "nominal"}, "text": {"field": "cabecera"}}},
        {"mark": {"type": "text", "align": "left", "baseline": "middle", "fontSize": 6.2, "font": "Open Sans", "color": "#3a3a3a", "dx": -77, "dy": 2.5},
         "encoding": {"x": {"datum": "concepto", "type": "nominal"}, "y": {"datum": "titulo", "type": "nominal"}, "text": {"field": "municipio"}}},
        {"mark": {"type": "rule", "color": "#9c9c9c", "strokeWidth": 1.4, "xOffset": -80, "x2Offset": 36, "yOffset": 3},
         "encoding": {"x": {"datum": "concepto", "type": "nominal"}, "x2": {"datum": "pct2015"}, "y": {"datum": "regla", "type": "nominal"}}},
        {"mark": {"type": "text", "align": "left", "baseline": "middle", "fontSize": 2.5, "color": "#444", "dx": -80, "dy": 1.5},
         "encoding": {"x": {"datum": "concepto", "type": "nominal"}, "y": {"datum": "datos", "type": "nominal"}, "text": {"field": "datos"}}},
        {"mark": {"type": "text", "align": "left", "baseline": "middle", "fontSize": 2.8, "fontWeight": "bold", "color": "#222", "dx": -80},
         "encoding": {"x": {"datum": "concepto", "type": "nominal"}, "y": {"datum": "escrutado", "type": "nominal"}, "text": {"field": "escrutado"}}},
        {"mark": {"type": "text", "text": "2016", "align": "center", "baseline": "middle", "fontSize": 2.8, "fontWeight": "bold", "color": "#555"},
         "encoding": {"x": {"datum": "concepto", "type": "nominal"}, "y": {"datum": "anios", "type": "nominal"}}},
        {"mark": {"type": "text", "text": "2015", "align": "center", "baseline": "middle", "fontSize": 2.8, "fontWeight": "bold", "color": "#555", "dx": -9},
         "encoding": {"x": {"datum": "pct2015", "type": "nominal"}, "y": {"datum": "anios", "type": "nominal"}}},
        {"mark": {"type": "rule", "color": "#4b5566", "strokeWidth": 1.3, "xOffset": -56, "x2Offset": 6, "yOffset": 2.6},
         "encoding": {"x": {"datum": "concepto", "type": "nominal"}, "x2": {"datum": "pct2016"}, "y": {"datum": "anios", "type": "nominal"}}},
        {"mark": {"type": "rule", "color": "#4b5566", "strokeWidth": 1.3, "xOffset": -18, "x2Offset": 2, "yOffset": 2.6},
         "encoding": {"x": {"datum": "pct2015", "type": "nominal"}, "x2": {"datum": "pct2015"}, "y": {"datum": "anios", "type": "nominal"}}},
        {"mark": {"type": "text", "text": "Gráfico de porcentajes de votos para las candidaturas más votadas", "align": "center", "baseline": "middle", "fontSize": 2.7, "color": "#666", "dx": -11, "dy": 2},
         "encoding": {"x": {"datum": "votos", "type": "nominal"}, "y": {"datum": "grafico", "type": "nominal"}}},
        {"mark": {"type": "rule", "color": "#4b5566", "strokeWidth": 1.2, "xOffset": -53, "x2Offset": 6},
         "encoding": {"x": {"datum": "concepto", "type": "nominal"}, "x2": {"datum": "pct2016"}, "y": {"datum": "regla_grafico", "type": "nominal"}}},
        {"data": {"values": [{"concepto": "Total votantes", "votos": "4.444", "pct2016": "65,55%", "pct2015": "71,31%"}, {"concepto": "Abstención", "votos": "2.336", "pct2016": "34,45%", "pct2015": "28,69%"}, {"concepto": "Votos nulos", "votos": "71", "pct2016": "1,60%", "pct2015": "0,87%"}, {"concepto": "Votos en blanco", "votos": "53", "pct2016": "1,21%", "pct2015": "1,26%"}]},
         "layer": [
          {"mark": {"type": "rule", "color": "#dddddd", "strokeWidth": 0.6, "xOffset": -56, "x2Offset": 2, "yOffset": 2.7},
           "encoding": {"x": {"datum": "concepto", "type": "nominal"}, "x2": {"datum": "pct2015"}, "y": {"field": "concepto", "type": "nominal"}}},
          {"mark": {"type": "text", "align": "left", "baseline": "middle", "fontSize": 2.9, "color": "#333", "dx": -55},
           "encoding": {"x": {"datum": "concepto", "type": "nominal"}, "y": {"field": "concepto", "type": "nominal"}, "text": {"field": "concepto"}}},
          {"transform": [{"fold": ["votos", "pct2016", "pct2015"], "as": ["columna", "valor"]}],
           "mark": {"type": "text", "align": "right", "baseline": "middle", "fontSize": 2.9, "color": "#333"},
           "encoding": {"x": {"field": "columna", "type": "nominal"}, "y": {"field": "concepto", "type": "nominal"}, "text": {"field": "valor"}}}
         ]}
       ]
      },
      {
       "data": {"values": [{"partido": "PSOE", "pct": 0.4300}, {"partido": "PP", "pct": 0.2557}, {"partido": "PODEMOS-IU-EQUO", "pct": 0.1587}, {"partido": "C's", "pct": 0.1108}, {"partido": "PACMA", "pct": 0.0090}, {"partido": "VOX", "pct": 0.0023}, {"partido": "OTROS", "pct": 0.0055}]},
       "layer": [
        {"mark": {"type": "tick", "color": "#b5b5b5", "thickness": 0.6, "size": 5},
         "encoding": {"x": {"datum": 0, "type": "quantitative", "scale": {"domain": [0, 1], "range": [84, 174], "nice": false, "zero": true}}, "y": {"field": "partido", "type": "nominal", "sort": null, "scale": {"type": "band", "range": [66.5, 100], "paddingInner": 0.08, "paddingOuter": 0}}}},
        {"mark": {"type": "bar"},
         "encoding": {"x": {"field": "pct", "type": "quantitative"}, "y": {"field": "partido", "type": "nominal", "sort": null}, "color": {"field": "partido", "type": "nominal"}}},
        {"mark": {"type": "text", "align": "left", "baseline": "middle", "fontSize": 3.7, "fontWeight": "bold", "color": "#1e1e1e", "dx": -47, "limit": 35},
         "encoding": {"x": {"datum": 0, "type": "quantitative"}, "y": {"field": "partido", "type": "nominal", "sort": null}, "text": {"field": "partido"}}},
        {"mark": {"type": "text", "align": "right", "baseline": "middle", "fontSize": 3, "color": "#9a9a9a", "dx": -1.5},
         "encoding": {"x": {"datum": 0, "type": "quantitative"}, "y": {"field": "partido", "type": "nominal", "sort": null}, "text": {"field": "pct", "type": "quantitative", "format": ".2%"}}}
       ]
      }
     ]
    },
    {
     "width": 202, "height": 101,
     "resolve": {"scale": {"x": "independent", "y": "independent"}},
     "layer": [
      {
       "data": {"values": [{"municipio": "Tarifa", "fecha": "26/6/2016", "cabecera": "Elecciones Generales 2016 - Congreso - Tarifa", "datos": "Datos a las 22:45 del 26 de junio de 2016", "escrutado": "Escrutado 100%"}]},
       "layer": [
        {"mark": {"type": "text", "align": "left", "baseline": "middle", "fontSize": 2.6, "color": "#777", "dx": -82},
         "encoding": {"x": {"datum": "concepto", "type": "nominal", "scale": {"type": "point", "domain": ["concepto", "votos", "pct2016", "pct2015"], "range": [89, 176], "padding": 0}}, "y": {"datum": "cabecera", "type": "nominal", "scale": {"type": "point", "domain": ["cabecera", "titulo", "regla", "datos", "escrutado", "anios", "Total votantes", "Abstención", "Votos nulos", "Votos en blanco", "grafico", "regla_grafico"], "range": [5, 66], "padding": 0}}, "text": {"field": "fecha"}}},
        {"mark": {"type": "text", "align": "center", "baseline": "middle", "fontSize": 2.6, "color": "#777", "dx": -5},
         "encoding": {"x": {"datum": "votos", "type": "nominal"}, "y": {"datum": "cabecera", "type": "nominal"}, "text": {"field": "cabecera"}}},
        {"mark": {"type": "text", "align": "left", "baseline": "middle", "fontSize": 6.2, "font": "Open Sans", "color": "#3a3a3a", "dx": -77, "dy": 2.5},
         "encoding": {"x": {"datum": "concepto", "type": "nominal"}, "y": {"datum": "titulo", "type": "nominal"}, "text": {"field": "municipio"}}},
        {"mark": {"type": "rule", "color": "#9c9c9c", "strokeWidth": 1.4, "xOffset": -80, "x2Offset": 21, "yOffset": 3},
         "encoding": {"x": {"datum": "concepto", "type": "nominal"}, "x2": {"datum": "pct2015"}, "y": {"datum": "regla", "type": "nominal"}}},
        {"mark": {"type": "text", "align": "left", "baseline": "middle", "fontSize": 2.5, "color": "#444", "dx": -80, "dy": 1.5},
         "encoding": {"x": {"datum": "concepto", "type": "nominal"}, "y": {"datum": "datos", "type": "nominal"}, "text": {"field": "datos"}}},
        {"mark": {"type": "text", "align": "left", "baseline": "middle", "fontSize": 2.8, "fontWeight": "bold", "color": "#222", "dx": -80},
         "encoding": {"x": {"datum": "concepto", "type": "nominal"}, "y": {"datum": "escrutado", "type": "nominal"}, "text": {"field": "escrutado"}}},
        {"mark": {"type": "text", "text": "2016", "align": "center", "baseline": "middle", "fontSize": 2.8, "fontWeight": "bold", "color": "#555"},
         "encoding": {"x": {"datum": "concepto", "type": "nominal"}, "y": {"datum": "anios", "type": "nominal"}}},
        {"mark": {"type": "text", "text": "2015", "align": "center", "baseline": "middle", "fontSize": 2.8, "fontWeight": "bold", "color": "#555", "dx": -9},
         "encoding": {"x": {"datum": "pct2015", "type": "nominal"}, "y": {"datum": "anios", "type": "nominal"}}},
        {"mark": {"type": "rule", "color": "#4b5566", "strokeWidth": 1.3, "xOffset": -56, "x2Offset": 6, "yOffset": 2.6},
         "encoding": {"x": {"datum": "concepto", "type": "nominal"}, "x2": {"datum": "pct2016"}, "y": {"datum": "anios", "type": "nominal"}}},
        {"mark": {"type": "rule", "color": "#4b5566", "strokeWidth": 1.3, "xOffset": -18, "x2Offset": 2, "yOffset": 2.6},
         "encoding": {"x": {"datum": "pct2015", "type": "nominal"}, "x2": {"datum": "pct2015"}, "y": {"datum": "anios", "type": "nominal"}}},
        {"mark": {"type": "text", "text": "Gráfico de porcentajes de votos para las candidaturas más votadas", "align": "center", "baseline": "middle", "fontSize": 2.7, "color": "#666", "dx": -11, "dy": 2},
         "encoding": {"x": {"datum": "votos", "type": "nominal"}, "y": {"datum": "grafico", "type": "nominal"}}},
        {"mark": {"type": "rule", "color": "#4b5566", "strokeWidth": 1.2, "xOffset": -53, "x2Offset": 6},
         "encoding": {"x": {"datum": "concepto", "type": "nominal"}, "x2": {"datum": "pct2016"}, "y": {"datum": "regla_grafico", "type": "nominal"}}},
        {"data": {"values": [{"concepto": "Total votantes", "votos": "8.275", "pct2016": "61,61%", "pct2015": "65,64%"}, {"concepto": "Abstención", "votos": "5.156", "pct2016": "38,39%", "pct2015": "34,36%"}, {"concepto": "Votos nulos", "votos": "99", "pct2016": "1,20%", "pct2015": "1,02%"}, {"concepto": "Votos en blanco", "votos": "85", "pct2016": "1,04%", "pct2015": "1,04%"}]},
         "layer": [
          {"mark": {"type": "rule", "color": "#dddddd", "strokeWidth": 0.6, "xOffset": -56, "x2Offset": 2, "yOffset": 2.7},
           "encoding": {"x": {"datum": "concepto", "type": "nominal"}, "x2": {"datum": "pct2015"}, "y": {"field": "concepto", "type": "nominal"}}},
          {"mark": {"type": "text", "align": "left", "baseline": "middle", "fontSize": 2.9, "color": "#333", "dx": -55},
           "encoding": {"x": {"datum": "concepto", "type": "nominal"}, "y": {"field": "concepto", "type": "nominal"}, "text": {"field": "concepto"}}},
          {"transform": [{"fold": ["votos", "pct2016", "pct2015"], "as": ["columna", "valor"]}],
           "mark": {"type": "text", "align": "right", "baseline": "middle", "fontSize": 2.9, "color": "#333"},
           "encoding": {"x": {"field": "columna", "type": "nominal"}, "y": {"field": "concepto", "type": "nominal"}, "text": {"field": "valor"}}}
         ]}
       ]
      },
      {
       "data": {"values": [{"partido": "PP", "pct": 0.3475}, {"partido": "PSOE", "pct": 0.3190}, {"partido": "PODEMOS-IU-EQUO", "pct": 0.1743}, {"partido": "C's", "pct": 0.1075}, {"partido": "PACMA", "pct": 0.0127}, {"partido": "VOX", "pct": 0.0030}, {"partido": "OTROS", "pct": 0.0061}]},
       "layer": [
        {"mark": {"type": "tick", "color": "#b5b5b5", "thickness": 0.6, "size": 5},
         "encoding": {"x": {"datum": 0, "type": "quantitative", "scale": {"domain": [0, 1], "range": [84, 174], "nice": false, "zero": true}}, "y": {"field": "partido", "type": "nominal", "sort": null, "scale": {"type": "band", "range": [66.5, 100], "paddingInner": 0.08, "paddingOuter": 0}}}},
        {"mark": {"type": "bar"},
         "encoding": {"x": {"field": "pct", "type": "quantitative"}, "y": {"field": "partido", "type": "nominal", "sort": null}, "color": {"field": "partido", "type": "nominal"}}},
        {"mark": {"type": "text", "align": "left", "baseline": "middle", "fontSize": 3.7, "fontWeight": "bold", "color": "#1e1e1e", "dx": -47, "limit": 35},
         "encoding": {"x": {"datum": 0, "type": "quantitative"}, "y": {"field": "partido", "type": "nominal", "sort": null}, "text": {"field": "partido"}}},
        {"mark": {"type": "text", "align": "right", "baseline": "middle", "fontSize": 3, "color": "#9a9a9a", "dx": -1.5},
         "encoding": {"x": {"datum": 0, "type": "quantitative"}, "y": {"field": "partido", "type": "nominal", "sort": null}, "text": {"field": "pct", "type": "quantitative", "format": ".2%"}}}
       ]
      }
     ]
    }
   ]
  }
 ]
}
